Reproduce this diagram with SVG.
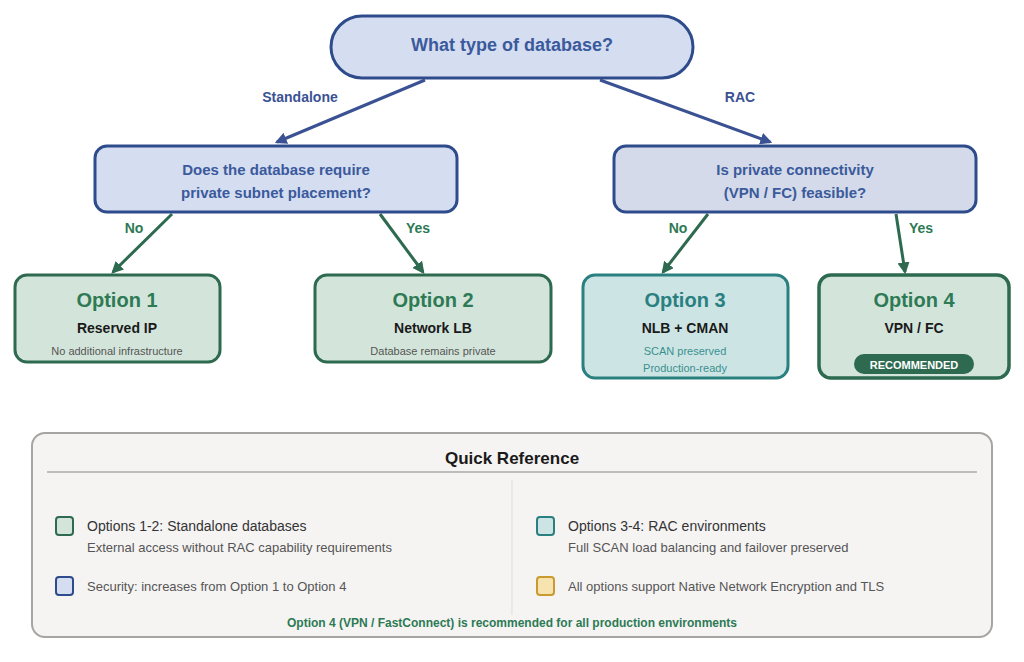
<svg xmlns="http://www.w3.org/2000/svg" width="1024" height="662" viewBox="0 0 1024 662">
<defs>
<style>
text{font-family:"Liberation Sans",Arial,sans-serif;text-anchor:middle}
.q{fill:#d5ddf1;stroke:#2e4b8c;stroke-width:3}
.qt{fill:#3a5a9c;font-weight:bold;font-size:15px}
.o{fill:#d3e5da;stroke:#2d6a4f;stroke-width:3}
.ot{fill:#2d7a55;font-weight:bold;font-size:20px}
.os{fill:#1a1a1a;font-weight:bold;font-size:14px}
.od{fill:#555;font-size:11px}
.eb{stroke:#3a5293;stroke-width:3;fill:none}
.eg{stroke:#2d6a4f;stroke-width:3;fill:none}
.lb{fill:#3a5293;font-weight:bold;font-size:14px}
.lg{fill:#2d7a55;font-weight:bold;font-size:14px}
.lt{fill:#333;font-size:14px;text-anchor:start}
.ls{fill:#555;font-size:13px;text-anchor:start}
</style>
<marker id="ab" viewBox="0 0 10 10" refX="8" refY="5" markerWidth="4" markerHeight="4" orient="auto"><path d="M0,0L10,5L0,10z" fill="#3a5293"/></marker>
<marker id="ag" viewBox="0 0 10 10" refX="8" refY="5" markerWidth="4" markerHeight="4" orient="auto"><path d="M0,0L10,5L0,10z" fill="#2d6a4f"/></marker>
</defs>
<rect width="1024" height="662" fill="#fff"/>
<g id="edges">
<line class="eb" x1="425" y1="80" x2="277" y2="142" marker-end="url(#ab)"/>
<line class="eb" x1="600" y1="80" x2="770" y2="142" marker-end="url(#ab)"/>
<line class="eg" x1="172" y1="214" x2="113" y2="272" marker-end="url(#ag)"/>
<line class="eg" x1="380" y1="214" x2="423" y2="272" marker-end="url(#ag)"/>
<line class="eg" x1="708" y1="214" x2="663" y2="272" marker-end="url(#ag)"/>
<line class="eg" x1="896" y1="214" x2="905" y2="272" marker-end="url(#ag)"/>
<text class="lb" x="300" y="102">Standalone</text>
<text class="lb" x="740" y="102">RAC</text>
<text class="lg" x="134" y="233">No</text>
<text class="lg" x="418" y="233">Yes</text>
<text class="lg" x="678" y="233">No</text>
<text class="lg" x="921" y="233">Yes</text>
</g>
<g id="root"><rect class="q" x="331" y="16" width="362" height="62" rx="31"/><text class="qt" x="512" y="51" style="font-size:18px">What type of database?</text></g>
<g id="dec-left"><rect class="q" x="95" y="146" width="362" height="66" rx="12"/><text class="qt" x="276" y="175">Does the database require</text><text class="qt" x="276" y="198">private subnet placement?</text></g>
<g id="dec-right"><rect class="q" x="614" y="146" width="362" height="66" rx="12" style="fill:#d4dae9"/><text class="qt" x="795" y="175">Is private connectivity</text><text class="qt" x="795" y="198">(VPN / FC) feasible?</text></g>
<g id="opt1"><rect class="o" x="15" y="275" width="205" height="87" rx="12"/><text class="ot" x="117" y="307">Option 1</text><text class="os" x="117" y="333">Reserved IP</text><text class="od" x="117" y="355">No additional infrastructure</text></g>
<g id="opt2"><rect class="o" x="315" y="275" width="236" height="87" rx="12"/><text class="ot" x="433" y="307">Option 2</text><text class="os" x="433" y="333">Network LB</text><text class="od" x="433" y="355">Database remains private</text></g>
<g id="opt3"><rect class="o" x="583" y="275" width="205" height="103" rx="12" style="fill:#cce5e4;stroke:#2a8080"/><text class="ot" x="685" y="307" style="fill:#2a8080">Option 3</text><text class="os" x="685" y="333">NLB + CMAN</text><text class="od" x="685" y="355" style="fill:#3a9090">SCAN preserved</text><text class="od" x="685" y="372" style="fill:#3a9090">Production-ready</text></g>
<g id="opt4"><rect class="o" x="819" y="275" width="190" height="103" rx="12" style="stroke-width:3.5"/><text class="ot" x="914" y="307">Option 4</text><text class="os" x="914" y="333">VPN / FC</text><rect x="854" y="354" width="120" height="20" rx="10" fill="#2d6a4f"/><text x="914" y="369" fill="#fff" font-weight="bold" font-size="11">RECOMMENDED</text></g>
<g id="quickref">
<rect x="32" y="433" width="960" height="204" rx="13" fill="#f5f4f3" stroke="#a8a4a2" stroke-width="2"/>
<text x="512" y="464" font-weight="bold" font-size="17" fill="#1a1a1a">Quick Reference</text>
<line x1="47" y1="472" x2="977" y2="472" stroke="#aaa" stroke-width="1.5"/>
<line x1="512" y1="480" x2="512" y2="615" stroke="#ddd" stroke-width="1"/>
<rect x="56" y="517" width="17" height="18" rx="3" fill="#d3e5da" stroke="#2d6a4f" stroke-width="2"/>
<text class="lt" x="87" y="531">Options 1-2: Standalone databases</text>
<text class="ls" x="87" y="552">External access without RAC capability requirements</text>
<rect x="56" y="577" width="17" height="18" rx="3" fill="#d5ddf1" stroke="#2e4b8c" stroke-width="2"/>
<text class="ls" x="87" y="591">Security: increases from Option 1 to Option 4</text>
<rect x="537" y="517" width="17" height="18" rx="3" fill="#cce5e4" stroke="#2a8080" stroke-width="2"/>
<text class="lt" x="568" y="531">Options 3-4: RAC environments</text>
<text class="ls" x="568" y="552">Full SCAN load balancing and failover preserved</text>
<rect x="537" y="577" width="17" height="18" rx="3" fill="#f7e3b0" stroke="#c99a2e" stroke-width="2"/>
<text class="ls" x="568" y="591">All options support Native Network Encryption and TLS</text>
<text x="512" y="627" font-weight="bold" font-size="12" fill="#2d7a55">Option 4 (VPN / FastConnect) is recommended for all production environments</text>
</g>
</svg>
